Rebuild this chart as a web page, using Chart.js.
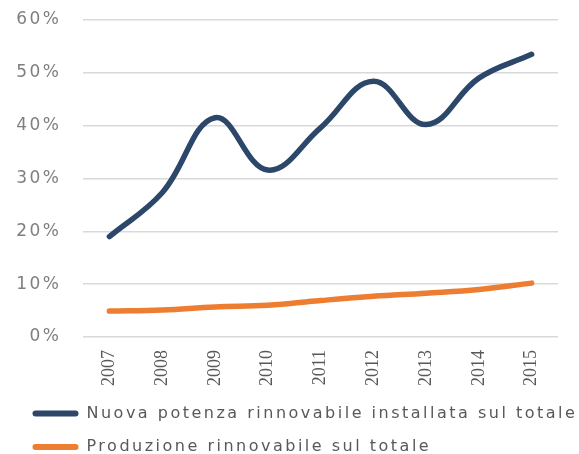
<!DOCTYPE html>
<html lang="it">
<head>
  <meta charset="UTF-8" />
  <title>Rinnovabili sul totale</title>
  <script src="https://cdn.jsdelivr.net/npm/chart.js"></script>
  <style>
    html, body { margin: 0; padding: 0; background: #fff; }
    #wrap { width: 579px; height: 454px; }
  </style>
</head>
<body>
  <div id="wrap"><canvas id="grafico"></canvas></div>

  <script>
    // dati (valori in %)
    const anni = ['2007', '2008', '2009', '2010', '2011', '2012', '2013', '2014', '2015'];
    const nuovaPotenza = [19.0, 27.3, 41.5, 31.6, 39.6, 48.4, 40.2, 49.0, 53.5];
    const produzione = [4.9, 5.1, 5.7, 6.0, 6.9, 7.7, 8.3, 9.0, 10.2];
    const nomiSerie = ['Nuova potenza rinnovabile installata sul totale', 'Produzione rinnovabile sul totale'];
    const colori = ['#2c4769', '#ed7d31'];

    // testo spaziato per legenda e asse y, normale per gli anni (disegnati dopo le linee)
    const spaziatura = {
      id: 'spaziatura',
      beforeDraw(chart) { chart.ctx.letterSpacing = '2.5px'; },
      afterDatasetsDraw(chart) { chart.ctx.letterSpacing = '0px'; }
    };

    const ctx = document.getElementById('grafico').getContext('2d');
    const grafico = new Chart(ctx, {
      type: 'line',
      data: {
        labels: anni,
        datasets: [{
          label: nomiSerie[0],
          data: nuovaPotenza,
          borderColor: colori[0],
          backgroundColor: colori[0],
          borderWidth: 5.5,
          borderCapStyle: 'round',
          tension: 0.4,
          pointRadius: 0
        }, {
          label: nomiSerie[1],
          data: produzione,
          borderColor: colori[1],
          backgroundColor: colori[1],
          borderWidth: 5.5,
          borderCapStyle: 'round',
          tension: 0.4,
          pointRadius: 0
        }]
      },
      options: {
        responsive: true,
        maintainAspectRatio: false,
        animation: false,
        // la legenda usa tutta la larghezza, il margine destro del grafico lo dà l'asse x
        layout: { padding: { left: 15, right: 0, top: 20, bottom: 0 } },
        scales: {
          x: {
            offset: true,
            grid: { display: false, drawTicks: false },
            border: { display: false },
            ticks: {
              minRotation: 90,
              maxRotation: 90,
              padding: 13,
              z: 1,
              color: '#595959',
              font: { family: "'Liberation Sans Narrow'", size: 18 }
            },
            afterFit(scale) {
              scale.height = 51;
              scale.paddingRight = 21;
            }
          },
          y: {
            min: 0,
            max: 60,
            grid: { color: '#d9d9d9', lineWidth: 1.5, drawTicks: false },
            border: { display: false },
            ticks: {
              stepSize: 10,
              padding: 21.5,
              color: '#7f7f7f',
              font: { family: "'DejaVu Sans', sans-serif", size: 17 },
              callback: (v) => v + '%'
            },
            afterFit(scale) {
              scale.width = 68;
              scale.paddingTop = 0;
              scale.paddingBottom = 0;
            }
          }
        },
        plugins: {
          tooltip: { enabled: false },
          legend: {
            position: 'bottom',
            align: 'start',
            maxHeight: 66,
            labels: {
              boxWidth: 46,
              boxHeight: 6,
              padding: 17.5,
              color: '#595959',
              useBorderRadius: true,
              borderRadius: 3,
              font: { family: "'DejaVu Sans', sans-serif", size: 16 },
              generateLabels(chart) {
                const voci = Chart.defaults.plugins.legend.labels.generateLabels(chart);
                voci.forEach(v => { v.lineWidth = 0; v.fillStyle = v.strokeStyle; });
                return voci;
              }
            }
          }
        }
      },
      plugins: [spaziatura]
    });
  </script>
</body>
</html>
